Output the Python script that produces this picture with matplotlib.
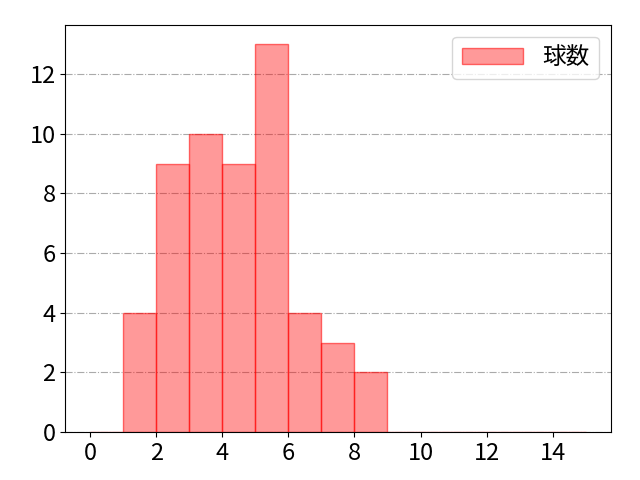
import numpy as np
import matplotlib
matplotlib.use("Agg")
import matplotlib.pyplot as plt

plt.rcParams['font.family'] = ['Noto Sans CJK JP', 'DejaVu Sans']

bin_edges = list(range(0, 16))
counts = [0, 4, 9, 10, 9, 13, 4, 3, 2, 0, 0, 0, 0, 0, 0]
label = "球数"

fig = plt.figure(figsize=(6.4, 4.8), dpi=100)
ax = fig.add_axes([0.102, 0.1, 0.852, 0.848])
left = np.array(bin_edges[:-1])
ax.bar(left, counts, width=1, align='edge', color=(1, 0, 0, 0.4),
       edgecolor=(1, 0, 0, 0.55), linewidth=1, label=label)
ax.grid(axis='y', linestyle='-.', color='#aaaaaa')
ax.set_axisbelow(True)
ax.set_xticks(range(0, 16, 2))
ax.tick_params(labelsize=17)
ax.legend(fontsize=17, loc='upper right', handlelength=2.6)
fig.savefig("out.png")
